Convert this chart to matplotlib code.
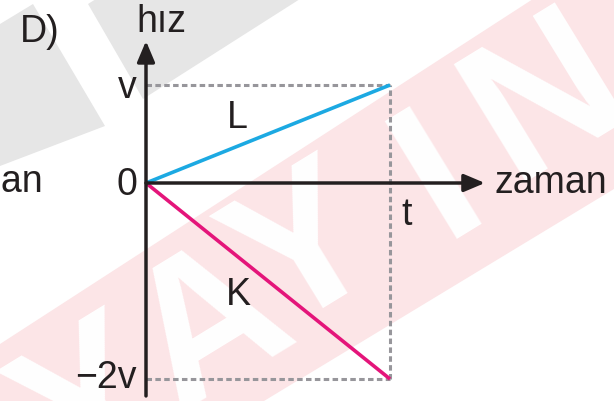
import matplotlib
matplotlib.use("Agg")
import matplotlib.pyplot as plt
from matplotlib.patches import Polygon

plt.rcParams['font.family'] = ['Liberation Sans', 'DejaVu Sans']

# graph data (time in units of t, speed in units of v)
times = [0, 1]
speed_L = [0, 1]
speed_K = [0, -2]
y_ticks = [1, 0, -2]
y_tick_labels = ["v", "0", "\u22122v"]
x_ticks = [1]
x_tick_labels = ["t"]

axis_color = "#231F20"
blue = "#1CA9E2"
magenta = "#E4157A"
dash_gray = "#97969B"
pink_bg = "#FCE5E7"
gray_bg = "#E6E6E6"

W, H = 614, 402
fig = plt.figure(figsize=(W / 100, H / 100), dpi=100)

# background watermark, drawn in pixel space
bg = fig.add_axes([0, 0, 1, 1], zorder=0)
bg.set_xlim(0, W)
bg.set_ylim(H, 0)
bg.axis("off")
bg.add_patch(Polygon([(0, 345), (533, 0), (W, 0), (W, 190), (264, H), (0, H)],
                     color=pink_bg, lw=0))
bg.add_patch(Polygon([(0, 25), (33, 5), (105, 127), (0, 167)], color=gray_bg, lw=0))
bg.add_patch(Polygon([(88, 5), (96, 0), (300, 0), (143, 100)], color=gray_bg, lw=0))
for ch, (cx, cy) in zip("YAYIN", [(95, 410), (212, 330), (308, 255), (440, 180), (548, 100)]):
    bg.text(cx, cy, ch, color="white", fontsize=145, fontweight="bold",
            rotation=31.5, rotation_mode="anchor", ha="center", va="center")

# main graph axes, scaled so that origin, v, -2v and t sit where they should
ax = fig.add_axes([0, 0, 1, 1], zorder=1)
ax.set_facecolor("none")
ax.set_xlim(-146 / 244, (W - 146) / 244)
ax.set_ylim(-(H - 184) / 98, 184 / 98)
ax.axis("off")

t_end = times[-1]
# helper dashed lines
dash = dict(color=dash_gray, lw=2.2, dashes=(1.8, 1.1))
ax.plot([0, t_end], [speed_L[-1]] * 2, **dash)
ax.plot([0, t_end], [speed_K[-1]] * 2, **dash)
ax.plot([t_end, t_end], [speed_K[-1], speed_L[-1]], **dash)

# speed lines
ax.plot(times, speed_L, color=blue, lw=2.6, solid_capstyle="butt", zorder=3)
ax.plot(times, speed_K, color=magenta, lw=2.6, solid_capstyle="butt", zorder=3)

# axes with arrows
arrow = dict(arrowstyle="-|>,head_length=0.9,head_width=0.38", mutation_scale=14,
             lw=2.5, color=axis_color, shrinkA=0, shrinkB=0)
ax.annotate("", xy=(0, 1.449), xytext=(0, -2.173), arrowprops=arrow, zorder=4)
ax.annotate("", xy=(1.389, 0), xytext=(0, 0), arrowprops=arrow, zorder=4)

fs = 27
for val, lab in zip(y_ticks, y_tick_labels):
    off = {1: -0.122, 0: -0.112, -2: -0.082}[val]
    ax.text(-0.037, val + off, lab, ha="right", va="baseline", fontsize=fs, color=axis_color)
for val, lab in zip(x_ticks, x_tick_labels):
    ax.text(val + 0.07, -0.418, lab, ha="center", va="baseline", fontsize=fs, color=axis_color)

ax.text(0.373, 0.571, "L", ha="center", va="baseline", fontsize=fs, color=axis_color)
ax.text(0.377, -1.235, "K", ha="center", va="baseline", fontsize=fs, color=axis_color)
ax.text(0.061, 1.551, "h\u0131z", ha="center", va="baseline", fontsize=fs, color=axis_color)
ax.text(1.430, -0.092, "zaman", ha="left", va="baseline", fontsize=fs, color=axis_color)
ax.text(-0.422, -0.082, "zaman", ha="right", va="baseline", fontsize=fs, color=axis_color)
ax.text(-0.516, 1.449, "D)", ha="left", va="baseline", fontsize=fs, color=axis_color)

fig.savefig("out.png", dpi=100)
